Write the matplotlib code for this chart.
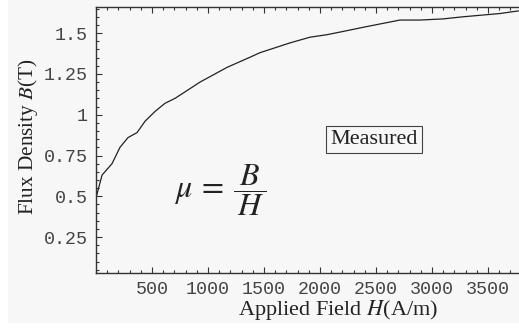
import numpy as np
import matplotlib.pyplot as plt
from matplotlib.patches import Rectangle
from matplotlib.ticker import MultipleLocator

campo_H = [0, 54, 143, 214, 286, 366, 438, 527, 616, 705, 795, 929, 1170,
           1384, 1464, 1732, 1911, 2060, 2205, 2417, 2536, 2714, 2893,
           3098, 3277, 3607, 3770]
flujo_B = [0.49, 0.63, 0.70, 0.80, 0.86, 0.89, 0.96, 1.02, 1.07, 1.10, 1.14,
           1.20, 1.29, 1.355, 1.38, 1.44, 1.475, 1.49, 1.51, 1.54, 1.556,
           1.58, 1.58, 1.587, 1.60, 1.62, 1.636]

x_ticks = [500, 1000, 1500, 2000, 2500, 3000, 3500]
y_ticks = [0.25, 0.5, 0.75, 1, 1.25, 1.5]
y_tick_labels = ['0.25', '0.5', '0.75', '1', '1.25', '1.5']

plt.rcParams['mathtext.fontset'] = 'stix'
serif = ['Liberation Serif', 'DejaVu Serif']
mono = ['Liberation Mono', 'DejaVu Sans Mono']
gris = '#333333'

fig = plt.figure(figsize=(5.19, 3.29), dpi=100, facecolor='white')
# panel gris de fondo
fig.patches.append(Rectangle((8 / 519, 6 / 329), 1 - 8 / 519, 1 - 6 / 329,
                             transform=fig.transFigure, facecolor='#f7f7f7',
                             edgecolor='none', zorder=-5))

ax = fig.add_axes([96 / 519, 56 / 329, 1 - 96 / 519, (273 - 7) / 329])
ax.set_zorder(2)
ax.set_facecolor('none')
ax.plot(campo_H, flujo_B, color='#222222', lw=0.9)

ax.set_xlim(0, 3777)
ax.set_ylim(0.03, 1.66)

ax.set_xticks(x_ticks)
ax.set_xticklabels([str(v) for v in x_ticks], family=mono, fontsize=13.2,
                   color='#444444')
ax.set_yticks(y_ticks)
ax.set_yticklabels(y_tick_labels, family=mono, fontsize=13.2, color='#444444')
ax.xaxis.set_minor_locator(MultipleLocator(100))
ax.yaxis.set_minor_locator(MultipleLocator(0.05))
ax.tick_params(which='both', direction='in', color=gris, width=0.8,
               top=True, right=False)
ax.tick_params(which='major', length=4, pad=6)
ax.tick_params(which='minor', length=2.2)

for lado in ['left', 'bottom', 'top']:
    ax.spines[lado].set_color(gris)
    ax.spines[lado].set_linewidth(1.0)
ax.spines['right'].set_visible(False)

fig.text(338 / 519, 1 - 310 / 329, 'Applied Field $H$(A/m)', family=serif,
         fontsize=16, ha='center', va='center', color='#222222')
fig.text(28 / 519, 1 - 137 / 329, 'Flux Density $B$(T)', family=serif,
         fontsize=15.3, ha='center', va='center', rotation=90, color='#222222')

ax.text(2482, 0.85, 'Measured', family=serif, fontsize=16, ha='center',
        va='center', color='#222222',
        bbox=dict(boxstyle='square,pad=0.18', facecolor='none',
                  edgecolor='#444444', lw=0.8))
ax.text(1107, 0.54, r'$\mu\:=\:\dfrac{\,B\,}{\,H\,}$', fontsize=23,
        ha='center', va='center', color='#222222')

fig.savefig('out.png', dpi=100, facecolor='white')
